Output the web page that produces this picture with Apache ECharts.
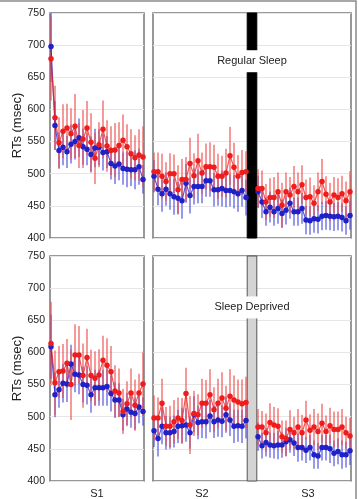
<!DOCTYPE html>
<html>
<head>
<meta charset="utf-8">
<script src="https://cdn.jsdelivr.net/npm/echarts@6/dist/echarts.min.js"></script>
<style>
  html, body { margin: 0; padding: 0; background: #fff; }
  #chart { width: 359px; height: 499px; }
</style>
</head>
<body>
<div id="chart"></div>
<script>
// session labels and y ticks
const sessionLabels = ["S1", "S2", "S3"];
const yTicks = [400, 450, 500, 550, 600, 650, 700, 750];
const panelTitles = ["Regular Sleep", "Sleep Deprived"];

// regular sleep (top row), mean RTs per block
const redTopS1 = [679, 587, 548, 566, 571, 562, 574, 544, 554, 571, 549, 524, 545, 569, 543, 536, 537, 544, 552, 542, 531, 525, 529, 526];
const blueTopS1 = [698, 575, 536, 541, 534, 546, 550, 556, 542, 538, 530, 540, 541, 533, 534, 516, 512, 515, 508, 507, 506, 506, 511, 491];
const redTopS2 = [503, 503, 496, 488, 500, 500, 475, 491, 491, 516, 497, 520, 501, 511, 511, 510, 496, 496, 501, 528, 510, 496, 502, 503];
const blueTopS2 = [496, 476, 469, 476, 469, 464, 462, 458, 485, 466, 480, 480, 480, 489, 489, 475, 475, 477, 474, 474, 472, 469, 474, 463];
const redTopS3 = [477, 477, 456, 463, 463, 472, 451, 472, 467, 480, 472, 483, 463, 464, 454, 472, 488, 468, 456, 467, 463, 469, 458, 472];
const blueTopS3 = [472, 456, 441, 448, 441, 446, 438, 443, 454, 441, 441, 446, 428, 427, 430, 429, 434, 435, 434, 433, 434, 432, 427, 435];

// sleep deprived (bottom row)
const redBotS1 = [614, 553, 570, 571, 583, 550, 596, 596, 564, 592, 564, 560, 565, 588, 580, 570, 540, 537, 508, 520, 537, 518, 537, 551];
const blueBotS1 = [609, 534, 542, 552, 551, 582, 566, 565, 550, 549, 534, 545, 545, 545, 547, 536, 526, 526, 503, 512, 507, 505, 515, 508];
const redBotS2 = [498, 498, 521, 485, 485, 492, 498, 494, 536, 487, 505, 503, 521, 521, 534, 511, 521, 529, 513, 532, 526, 523, 520, 522];
const blueBotS2 = [478, 466, 485, 475, 475, 477, 485, 486, 487, 475, 504, 491, 492, 492, 501, 492, 495, 493, 503, 495, 485, 486, 485, 494];
const redBotS3 = [484, 484, 475, 491, 487, 485, 469, 466, 480, 475, 484, 475, 495, 479, 484, 477, 490, 477, 486, 480, 480, 484, 475, 470];
const blueBotS3 = [469, 455, 460, 456, 455, 456, 456, 461, 464, 459, 452, 452, 448, 452, 441, 439, 452, 452, 450, 443, 446, 441, 441, 447];

// error bar half widths
const redErrTopS1 = [65, 50, 40, 42, 38, 40, 50, 35, 45, 42, 45, 40, 35, 45, 40, 38, 42, 36, 40, 35, 38, 35, 40, 48];
const blueErrTopS1 = [55, 38, 28, 28, 25, 30, 28, 30, 28, 25, 28, 30, 28, 28, 25, 25, 28, 25, 25, 28, 25, 30, 28, 22];
const redErrTopS2 = [30, 30, 35, 30, 32, 30, 38, 32, 35, 40, 35, 42, 32, 36, 38, 35, 35, 32, 38, 45, 38, 33, 35, 32];
const blueErrTopS2 = [25, 25, 28, 26, 25, 28, 25, 28, 30, 28, 28, 26, 26, 25, 25, 26, 25, 28, 26, 25, 26, 28, 25, 28];
const redErrTopS3 = [30, 28, 28, 30, 32, 30, 35, 30, 28, 32, 30, 30, 28, 30, 28, 30, 35, 28, 30, 28, 30, 28, 30, 32];
const blueErrTopS3 = [25, 25, 22, 24, 22, 24, 22, 22, 24, 22, 22, 24, 22, 22, 22, 22, 22, 22, 22, 22, 22, 22, 22, 22];
const redErrBotS1 = [65, 50, 40, 42, 38, 55, 48, 45, 50, 45, 40, 42, 40, 38, 42, 40, 40, 38, 35, 35, 38, 40, 30, 50];
const blueErrBotS1 = [50, 35, 28, 30, 28, 30, 28, 30, 28, 30, 28, 28, 28, 28, 30, 28, 28, 26, 25, 25, 24, 25, 25, 22];
const redErrBotS2 = [35, 32, 38, 30, 32, 34, 32, 35, 40, 45, 35, 32, 38, 36, 40, 35, 38, 40, 35, 42, 38, 35, 38, 40];
const blueErrBotS2 = [25, 28, 28, 26, 25, 25, 26, 28, 26, 25, 28, 26, 25, 26, 25, 25, 26, 25, 28, 25, 26, 25, 26, 28];
const redErrBotS3 = [28, 25, 30, 30, 28, 28, 25, 28, 30, 25, 28, 28, 30, 25, 28, 28, 30, 25, 28, 28, 28, 28, 25, 28];
const blueErrBotS3 = [22, 20, 22, 20, 20, 22, 20, 22, 20, 20, 22, 20, 20, 20, 22, 20, 20, 20, 22, 20, 20, 22, 20, 22];

const S3_OFFSET = 26;   // S3 blocks start after the break bar
const RED = "#ee1c1c";
const BLUE = "#2020c8";
const RED_ERR = "rgba(238,70,70,0.65)";
const BLUE_ERR = "rgba(70,70,220,0.65)";

const chart = echarts.init(document.getElementById("chart"));

const pts = (vals, off) => vals.map((v, i) => [i + off, v]);
const errPts = (vals, errs, off) => vals.map((v, i) => [i + off, v - errs[i], v + errs[i]]);

function errSeries(vals, errs, off, idx, color) {
  return {
    type: "custom",
    xAxisIndex: idx,
    yAxisIndex: idx,
    data: errPts(vals, errs, off),
    z: 2,
    renderItem: (params, api) => {
      const x = api.value(0);
      const lo = Math.max(400, api.value(1));
      const hi = Math.min(750, api.value(2));
      const a = api.coord([x, lo]);
      const b = api.coord([x, hi]);
      return {
        type: "line",
        shape: { x1: a[0], y1: a[1], x2: b[0], y2: b[1] },
        style: { stroke: color, lineWidth: 1.7 }
      };
    }
  };
}

function lineSeries(vals, off, idx, color) {
  return {
    type: "line",
    xAxisIndex: idx,
    yAxisIndex: idx,
    data: pts(vals, off),
    symbol: "circle",
    symbolSize: 5.5,
    z: 3,
    itemStyle: { color: color },
    lineStyle: { color: color, width: 1.2, opacity: 0.75 },
    animation: false
  };
}

// break bar between S2 and S3 with the condition label
function breakSeries(idx, title, fill, border, labelY) {
  return {
    type: "line",
    xAxisIndex: idx,
    yAxisIndex: idx,
    data: [],
    z: 4,
    markArea: {
      silent: true,
      itemStyle: { color: fill, borderColor: border, borderWidth: 1 },
      data: [[{ xAxis: 23.3, yAxis: 400 }, { xAxis: 25.7, yAxis: 750 }]]
    },
    markPoint: {
      silent: true,
      symbol: "rect",
      symbolSize: [14, 22],
      itemStyle: { color: "#fff" },
      label: {
        show: true,
        position: "inside",
        formatter: title,
        color: "#222",
        fontSize: 11,
        fontFamily: "Liberation Sans"
      },
      data: [{ coord: [24.5, labelY] }]
    }
  };
}

const grids = [
  { left: 50, top: 13, width: 94, height: 225 },
  { left: 153, top: 13, width: 198, height: 225 },
  { left: 50, top: 256, width: 94, height: 225 },
  { left: 153, top: 256, width: 198, height: 225 }
].map(g => Object.assign(g, {
  show: true, borderColor: "#777", borderWidth: 1.5, backgroundColor: "#fff"
}));

const xAxes = grids.map((g, i) => {
  const wide = i % 2 === 1;
  const bottom = i >= 2;
  const vals = wide ? [12, 38.5] : [11.5];
  const names = wide ? [sessionLabels[1], sessionLabels[2]] : [sessionLabels[0]];
  return {
    type: "value",
    gridIndex: i,
    min: -0.25,
    max: wide ? 49.25 : 23.25,
    axisLine: { show: false },
    axisTick: { show: false },
    splitLine: { show: false },
    axisLabel: {
      show: bottom,
      customValues: vals,
      formatter: v => names[vals.indexOf(v)] || "",
      margin: 7,
      color: "#222",
      fontSize: 11,
      fontFamily: "Liberation Sans"
    }
  };
});

const yAxes = grids.map((g, i) => {
  const left = i % 2 === 0;
  return {
    type: "value",
    gridIndex: i,
    min: yTicks[0],
    max: yTicks[yTicks.length - 1],
    interval: 50,
    name: left ? "RTs (msec)" : "",
    nameLocation: "middle",
    nameGap: 26,
    nameTextStyle: { color: "#222", fontSize: 13, fontFamily: "Liberation Sans" },
    axisLine: { show: false },
    axisTick: { show: false },
    splitLine: { show: true, lineStyle: { color: "#e6e6e6", width: 1 } },
    axisLabel: {
      show: left,
      margin: 5,
      color: "#222",
      fontSize: 10.5,
      fontFamily: "Liberation Sans"
    }
  };
});

const series = [
  // top row
  errSeries(blueTopS1, blueErrTopS1, 0, 0, BLUE_ERR),
  errSeries(redTopS1, redErrTopS1, 0, 0, RED_ERR),
  lineSeries(blueTopS1, 0, 0, BLUE),
  lineSeries(redTopS1, 0, 0, RED),
  errSeries(blueTopS2, blueErrTopS2, 0, 1, BLUE_ERR),
  errSeries(redTopS2, redErrTopS2, 0, 1, RED_ERR),
  lineSeries(blueTopS2, 0, 1, BLUE),
  lineSeries(redTopS2, 0, 1, RED),
  errSeries(blueTopS3, blueErrTopS3, S3_OFFSET, 1, BLUE_ERR),
  errSeries(redTopS3, redErrTopS3, S3_OFFSET, 1, RED_ERR),
  lineSeries(blueTopS3, S3_OFFSET, 1, BLUE),
  lineSeries(redTopS3, S3_OFFSET, 1, RED),
  breakSeries(1, panelTitles[0], "#000", "#000", 675),
  // bottom row
  errSeries(blueBotS1, blueErrBotS1, 0, 2, BLUE_ERR),
  errSeries(redBotS1, redErrBotS1, 0, 2, RED_ERR),
  lineSeries(blueBotS1, 0, 2, BLUE),
  lineSeries(redBotS1, 0, 2, RED),
  errSeries(blueBotS2, blueErrBotS2, 0, 3, BLUE_ERR),
  errSeries(redBotS2, redErrBotS2, 0, 3, RED_ERR),
  lineSeries(blueBotS2, 0, 3, BLUE),
  lineSeries(redBotS2, 0, 3, RED),
  errSeries(blueBotS3, blueErrBotS3, S3_OFFSET, 3, BLUE_ERR),
  errSeries(redBotS3, redErrBotS3, S3_OFFSET, 3, RED_ERR),
  lineSeries(blueBotS3, S3_OFFSET, 3, BLUE),
  lineSeries(redBotS3, S3_OFFSET, 3, RED),
  breakSeries(3, panelTitles[1], "#d4d4d4", "#555", 670)
];

chart.setOption({
  animation: false,
  backgroundColor: "#fff",
  grid: grids,
  xAxis: xAxes,
  yAxis: yAxes,
  series: series,
  graphic: [{
    type: "rect",
    shape: { x: -5, y: 1, width: 361, height: 510 },
    style: { fill: "none", stroke: "#8a8a8a", lineWidth: 1.5 },
    silent: true
  }]
});
</script>
</body>
</html>
